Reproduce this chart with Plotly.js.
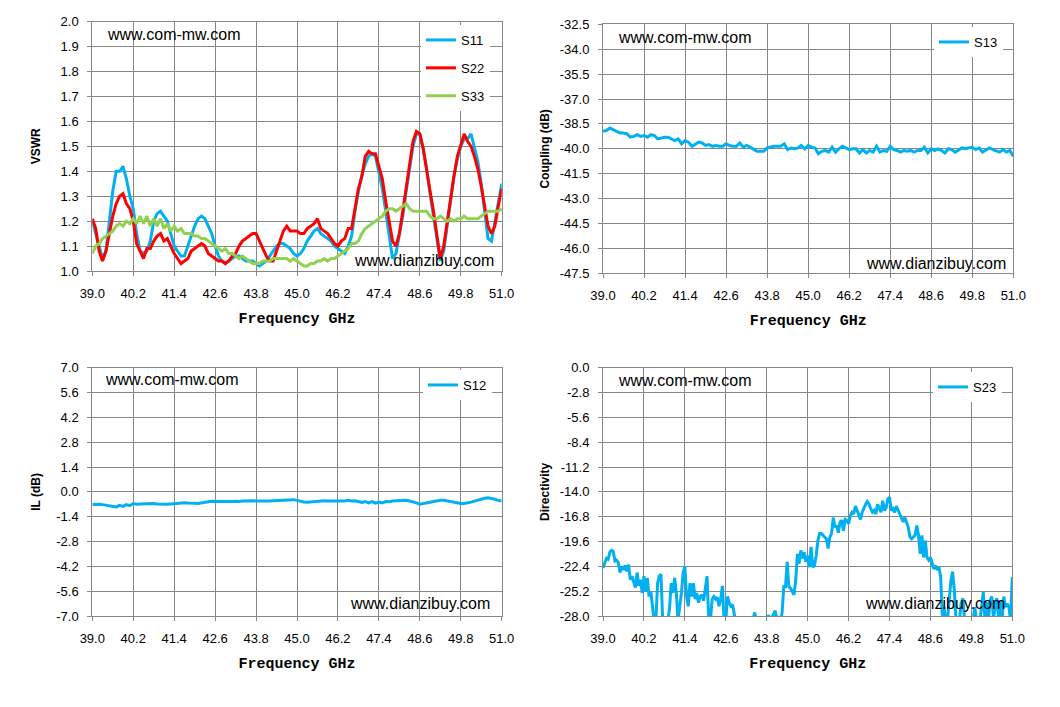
<!DOCTYPE html>
<html>
<head>
<meta charset="utf-8">
<script src="https://cdn.plot.ly/plotly-3.0.1.min.js"></script>
<style>
  html, body { margin: 0; padding: 0; background: #fff; }
  #chart { width: 1060px; height: 707px; }
</style>
</head>
<body>
<div id="chart"></div>
<script>
// frequency grid, GHz (0.1 GHz step)
var freq = [
  39.0, 39.1, 39.2, 39.3, 39.4, 39.5, 39.6, 39.7, 39.8, 39.9,
  40.0, 40.1, 40.2, 40.3, 40.4, 40.5, 40.6, 40.7, 40.8, 40.9,
  41.0, 41.1, 41.2, 41.3, 41.4, 41.5, 41.6, 41.7, 41.8, 41.9,
  42.0, 42.1, 42.2, 42.3, 42.4, 42.5, 42.6, 42.7, 42.8, 42.9,
  43.0, 43.1, 43.2, 43.3, 43.4, 43.5, 43.6, 43.7, 43.8, 43.9,
  44.0, 44.1, 44.2, 44.3, 44.4, 44.5, 44.6, 44.7, 44.8, 44.9,
  45.0, 45.1, 45.2, 45.3, 45.4, 45.5, 45.6, 45.7, 45.8, 45.9,
  46.0, 46.1, 46.2, 46.3, 46.4, 46.5, 46.6, 46.7, 46.8, 46.9,
  47.0, 47.1, 47.2, 47.3, 47.4, 47.5, 47.6, 47.7, 47.8, 47.9,
  48.0, 48.1, 48.2, 48.3, 48.4, 48.5, 48.6, 48.7, 48.8, 48.9,
  49.0, 49.1, 49.2, 49.3, 49.4, 49.5, 49.6, 49.7, 49.8, 49.9,
  50.0, 50.1, 50.2, 50.3, 50.4, 50.5, 50.6, 50.7, 50.8, 50.9,
  51.0
];

// finer grid for the noisy directivity trace (0.05 GHz step)
var freqFine = [
  39.00, 39.05, 39.10, 39.15, 39.20, 39.25, 39.30, 39.35, 39.40, 39.45, 39.50, 39.55, 39.60, 39.65, 39.70, 39.75, 39.80, 39.85, 39.90, 39.95,
  40.00, 40.05, 40.10, 40.15, 40.20, 40.25, 40.30, 40.35, 40.40, 40.45, 40.50, 40.55, 40.60, 40.65, 40.70, 40.75, 40.80, 40.85, 40.90, 40.95,
  41.00, 41.05, 41.10, 41.15, 41.20, 41.25, 41.30, 41.35, 41.40, 41.45, 41.50, 41.55, 41.60, 41.65, 41.70, 41.75, 41.80, 41.85, 41.90, 41.95,
  42.00, 42.05, 42.10, 42.15, 42.20, 42.25, 42.30, 42.35, 42.40, 42.45, 42.50, 42.55, 42.60, 42.65, 42.70, 42.75, 42.80, 42.85, 42.90, 42.95,
  43.00, 43.05, 43.10, 43.15, 43.20, 43.25, 43.30, 43.35, 43.40, 43.45, 43.50, 43.55, 43.60, 43.65, 43.70, 43.75, 43.80, 43.85, 43.90, 43.95,
  44.00, 44.05, 44.10, 44.15, 44.20, 44.25, 44.30, 44.35, 44.40, 44.45, 44.50, 44.55, 44.60, 44.65, 44.70, 44.75, 44.80, 44.85, 44.90, 44.95,
  45.00, 45.05, 45.10, 45.15, 45.20, 45.25, 45.30, 45.35, 45.40, 45.45, 45.50, 45.55, 45.60, 45.65, 45.70, 45.75, 45.80, 45.85, 45.90, 45.95,
  46.00, 46.05, 46.10, 46.15, 46.20, 46.25, 46.30, 46.35, 46.40, 46.45, 46.50, 46.55, 46.60, 46.65, 46.70, 46.75, 46.80, 46.85, 46.90, 46.95,
  47.00, 47.05, 47.10, 47.15, 47.20, 47.25, 47.30, 47.35, 47.40, 47.45, 47.50, 47.55, 47.60, 47.65, 47.70, 47.75, 47.80, 47.85, 47.90, 47.95,
  48.00, 48.05, 48.10, 48.15, 48.20, 48.25, 48.30, 48.35, 48.40, 48.45, 48.50, 48.55, 48.60, 48.65, 48.70, 48.75, 48.80, 48.85, 48.90, 48.95,
  49.00, 49.05, 49.10, 49.15, 49.20, 49.25, 49.30, 49.35, 49.40, 49.45, 49.50, 49.55, 49.60, 49.65, 49.70, 49.75, 49.80, 49.85, 49.90, 49.95,
  50.00, 50.05, 50.10, 50.15, 50.20, 50.25, 50.30, 50.35, 50.40, 50.45, 50.50, 50.55, 50.60, 50.65, 50.70, 50.75, 50.80, 50.85, 50.90, 50.95,
  51.00
];

// VSWR
var s11 = [
  1.20, 1.15, 1.10, 1.05, 1.08, 1.20, 1.32, 1.40, 1.40, 1.42,
  1.37, 1.30, 1.25, 1.15, 1.08, 1.07, 1.08, 1.12, 1.20, 1.23,
  1.24, 1.22, 1.20, 1.15, 1.10, 1.08, 1.06, 1.06, 1.10, 1.14,
  1.18, 1.21, 1.22, 1.21, 1.18, 1.15, 1.10, 1.06, 1.04, 1.03,
  1.04, 1.05, 1.06, 1.06, 1.05, 1.04, 1.04, 1.04, 1.03, 1.02,
  1.03, 1.04, 1.06, 1.08, 1.10, 1.11, 1.11, 1.10, 1.09, 1.07,
  1.06, 1.07, 1.09, 1.12, 1.14, 1.16, 1.17, 1.15, 1.14, 1.13,
  1.12, 1.10, 1.09, 1.08, 1.07, 1.10, 1.14, 1.24, 1.32, 1.38,
  1.43, 1.46, 1.47, 1.46, 1.40, 1.33, 1.24, 1.15, 1.05, 1.07,
  1.14, 1.22, 1.32, 1.42, 1.50, 1.55, 1.55, 1.49, 1.41, 1.31,
  1.22, 1.12, 1.04, 1.08, 1.18, 1.28, 1.38, 1.45, 1.50, 1.53,
  1.53, 1.55, 1.50, 1.44, 1.35, 1.24, 1.13, 1.12, 1.20, 1.28,
  1.35
];
var s22 = [
  1.21, 1.17, 1.08, 1.04, 1.08, 1.15, 1.22, 1.27, 1.30, 1.31,
  1.27, 1.25, 1.20, 1.11, 1.08, 1.05, 1.09, 1.09, 1.12, 1.14,
  1.15, 1.12, 1.13, 1.10, 1.07, 1.05, 1.03, 1.04, 1.05, 1.08,
  1.09, 1.10, 1.11, 1.10, 1.07, 1.06, 1.05, 1.04, 1.04, 1.03,
  1.04, 1.06, 1.07, 1.10, 1.12, 1.13, 1.14, 1.15, 1.15, 1.12,
  1.09, 1.06, 1.04, 1.04, 1.08, 1.12, 1.16, 1.18, 1.16, 1.16,
  1.16, 1.15, 1.15, 1.17, 1.18, 1.19, 1.21, 1.17, 1.16, 1.15,
  1.13, 1.11, 1.10, 1.12, 1.13, 1.17, 1.17, 1.25, 1.33, 1.38,
  1.46, 1.48, 1.47, 1.47, 1.42, 1.37, 1.28, 1.20, 1.12, 1.10,
  1.15, 1.24, 1.34, 1.44, 1.52, 1.56, 1.55, 1.49, 1.40, 1.32,
  1.24, 1.14, 1.05, 1.10, 1.20, 1.28, 1.38, 1.46, 1.51, 1.55,
  1.52, 1.50, 1.46, 1.41, 1.34, 1.25, 1.18, 1.15, 1.18, 1.26,
  1.33
];
var s33 = [
  1.07, 1.10, 1.11, 1.13, 1.14, 1.15, 1.16, 1.18, 1.19, 1.18,
  1.20, 1.19, 1.21, 1.19, 1.22, 1.19, 1.22, 1.18, 1.21, 1.18,
  1.21, 1.17, 1.19, 1.16, 1.18, 1.16, 1.17, 1.15, 1.15, 1.15,
  1.14, 1.14, 1.13, 1.13, 1.12, 1.11, 1.10, 1.09, 1.08, 1.09,
  1.07, 1.07, 1.06, 1.05, 1.06, 1.05, 1.04, 1.03, 1.03, 1.03,
  1.04, 1.04, 1.04, 1.05, 1.05, 1.05, 1.05, 1.05, 1.04, 1.05,
  1.04, 1.03, 1.02, 1.02, 1.03, 1.03, 1.04, 1.04, 1.05, 1.04,
  1.05, 1.05, 1.06, 1.07, 1.08, 1.09, 1.11, 1.11, 1.12, 1.15,
  1.17, 1.18, 1.19, 1.20, 1.21, 1.22, 1.24, 1.25, 1.25, 1.24,
  1.25, 1.26, 1.27, 1.25, 1.24, 1.24, 1.24, 1.24, 1.24, 1.22,
  1.21, 1.21, 1.22, 1.21, 1.20, 1.21, 1.20, 1.21, 1.21, 1.22,
  1.21, 1.21, 1.21, 1.21, 1.22, 1.23, 1.24, 1.24, 1.24, 1.24,
  1.25
];

// Coupling, dB
var s13 = [
  -38.95, -38.90, -38.75, -38.85, -39.00, -39.05, -39.05, -39.10, -39.30, -39.25,
  -39.15, -39.25, -39.20, -39.30, -39.15, -39.20, -39.40, -39.35, -39.30, -39.30,
  -39.40, -39.50, -39.40, -39.70, -39.50, -39.60, -39.85, -39.75, -39.60, -39.65,
  -39.80, -39.75, -39.85, -39.80, -39.85, -39.85, -39.70, -39.80, -39.85, -39.85,
  -39.65, -39.90, -39.80, -39.90, -40.05, -40.15, -40.15, -40.15, -39.95, -39.90,
  -39.85, -39.85, -39.85, -39.70, -40.05, -39.95, -40.00, -39.95, -39.80, -40.00,
  -39.80, -39.90, -39.95, -40.30, -40.15, -40.10, -40.20, -39.90, -40.20, -40.00,
  -39.85, -39.95, -40.05, -40.00, -40.00, -40.25, -40.05, -40.25, -40.10, -40.20,
  -39.85, -40.20, -40.10, -40.15, -39.85, -40.05, -40.10, -40.20, -40.10, -40.15,
  -40.10, -40.20, -40.10, -40.10, -39.90, -40.25, -40.00, -40.10, -40.00, -40.10,
  -40.25, -40.00, -40.05, -40.20, -40.10, -39.95, -40.00, -39.95, -39.90, -40.05,
  -39.95, -40.20, -40.05, -39.95, -40.05, -40.15, -40.20, -40.05, -40.20, -40.10,
  -40.45
];

// Insertion loss, dB
var s12 = [
  -0.72, -0.70, -0.70, -0.72, -0.75, -0.78, -0.80, -0.85, -0.76, -0.82,
  -0.72, -0.78, -0.66, -0.70, -0.68, -0.67, -0.66, -0.67, -0.66, -0.68,
  -0.70, -0.72, -0.70, -0.68, -0.66, -0.62, -0.60, -0.62, -0.63, -0.62,
  -0.64, -0.66, -0.64, -0.60, -0.56, -0.53, -0.55, -0.55, -0.54, -0.55,
  -0.56, -0.55, -0.53, -0.55, -0.52, -0.50, -0.52, -0.50, -0.51, -0.52,
  -0.50, -0.51, -0.52, -0.50, -0.49, -0.48, -0.45, -0.43, -0.42, -0.44,
  -0.48, -0.53, -0.57, -0.58, -0.56, -0.52, -0.50, -0.49, -0.50, -0.52,
  -0.52, -0.51, -0.53, -0.50, -0.52, -0.48, -0.52, -0.50, -0.55, -0.60,
  -0.55, -0.62, -0.55, -0.64, -0.58, -0.62, -0.55, -0.56, -0.52, -0.50,
  -0.48, -0.46, -0.48, -0.52, -0.56, -0.62, -0.70, -0.66, -0.62, -0.56,
  -0.52, -0.48, -0.47, -0.48, -0.52, -0.56, -0.60, -0.64, -0.66, -0.66,
  -0.64, -0.58, -0.52, -0.46, -0.40, -0.36, -0.34, -0.36, -0.42, -0.48,
  -0.52
];

// Directivity, dB (values under -28 run off the bottom of the plot)
var s23 = [
  -22.6, -22.0, -21.5, -21.6, -20.8, -20.6, -20.7, -21.8, -21.7, -22.0, -23.1, -22.4, -22.8, -22.3, -22.95, -22.2, -23.9, -23.5, -24.3, -24.8,
  -23.1, -24.6, -23.9, -25.4, -23.5, -25.2, -23.7, -25.8, -25.2, -27.2, -28.5, -28.5, -24.3, -23.5, -23.3, -28.5, -28.5, -28.5, -28.5, -27.2,
  -24.3, -25.4, -23.7, -25.4, -28.5, -26.9, -25.4, -23.1, -22.4, -25.8, -26.9, -24.3, -25.8, -24.3, -26.1, -25.4, -26.5, -25.8, -25.6, -26.3,
  -24.8, -23.5, -28.5, -28.5, -26.1, -25.8, -26.1, -25.9, -26.9, -26.1, -24.6, -28.5, -28.5, -25.8, -26.5, -26.9, -26.7, -28.0, -29.0, -29.0,
  -29.0, -29.0, -29.0, -29.0, -29.0, -29.0, -29.0, -29.0, -28.3, -27.6, -29.0, -29.0, -29.0, -29.0, -29.0, -28.3, -28.6, -27.9, -28.3, -28.2,
  -27.7, -27.4, -28.4, -28.2, -28.4, -27.7, -24.7, -24.7, -21.9, -24.7, -24.9, -25.3, -25.6, -24.0, -21.0, -22.1, -20.6, -21.5, -20.8, -21.9,
  -21.2, -22.5, -20.2, -22.5, -22.3, -21.2, -19.5, -18.7, -18.7, -18.9, -19.1, -19.3, -20.4, -19.1, -18.7, -16.9, -18.0, -17.8, -18.6, -17.4,
  -17.2, -18.4, -17.1, -17.2, -17.6, -16.7, -16.3, -16.5, -15.6, -16.1, -16.5, -17.1, -16.3, -15.8, -15.4, -15.1, -15.4, -15.9, -16.3, -16.1,
  -16.5, -15.4, -15.9, -16.3, -15.0, -16.1, -15.8, -14.8, -14.6, -16.1, -15.9, -16.3, -15.6, -16.1, -16.5, -17.1, -17.4, -16.9, -17.6, -18.0,
  -19.1, -19.3, -19.1, -18.9, -17.8, -18.9, -21.0, -18.9, -21.4, -19.5, -21.4, -21.7, -21.4, -22.1, -22.7, -22.3, -22.8, -22.5, -23.6, -28.1,
  -27.0, -28.5, -28.5, -26.2, -24.0, -23.0, -25.1, -28.5, -28.5, -28.5, -26.6, -26.0, -28.5, -28.5, -28.5, -28.5, -28.5, -28.5, -27.0, -28.5,
  -28.5, -28.5, -27.0, -25.3, -28.5, -26.4, -28.5, -26.2, -25.8, -28.5, -26.6, -26.0, -28.5, -26.2, -28.5, -25.8, -27.0, -26.6, -27.0, -28.5,
  -23.6
];

// axis ticks
var freqTicks = [39.0, 40.2, 41.4, 42.6, 43.8, 45.0, 46.2, 47.4, 48.6, 49.8, 51.0];
var vswrTicks = [1.0, 1.1, 1.2, 1.3, 1.4, 1.5, 1.6, 1.7, 1.8, 1.9, 2.0];
var couplingTicks = [-47.5, -46.0, -44.5, -43.0, -41.5, -40.0, -38.5, -37.0, -35.5, -34.0, -32.5];
var ilTicks = [-7.0, -5.6, -4.2, -2.8, -1.4, 0.0, 1.4, 2.8, 4.2, 5.6, 7.0];
var dirTicks = [-28.0, -25.2, -22.4, -19.6, -16.8, -14.0, -11.2, -8.4, -5.6, -2.8, 0.0];

var W = 1060, H = 707;
var FONT = 'Liberation Sans, Arial, sans-serif';
var GRID = '#878787';
var BLUE = '#00B0F0', RED = '#FF0000', GREEN = '#92D050';

function fx(p) { return p / W; }
function fy(p) { return 1 - p / H; }
function labels(arr) { return arr.map(function(v) { return v.toFixed(1); }); }

function xAxis(l, r, anchor) {
  return {
    domain: [fx(l), fx(r)], anchor: anchor, range: [39, 51],
    tickmode: 'array', tickvals: freqTicks, ticktext: labels(freqTicks),
    showgrid: true, gridcolor: GRID, gridwidth: 1,
    showline: true, linecolor: GRID, linewidth: 1, mirror: true,
    ticks: 'outside', ticklen: 4, tickcolor: GRID, zeroline: false,
    ticklabelstandoff: 6,
    tickfont: {family: FONT, size: 13, color: '#000'},
    title: {text: '<b>Frequency GHz</b>', standoff: 12,
            font: {family: 'Liberation Mono, monospace', size: 15, color: '#000'}},
    fixedrange: true
  };
}
function yAxis(top, bottom, anchor, range, ticks, title, standoff) {
  return {
    domain: [fy(bottom), fy(top)], anchor: anchor, range: range,
    tickmode: 'array', tickvals: ticks, ticktext: labels(ticks),
    showgrid: true, gridcolor: GRID, gridwidth: 1,
    showline: true, linecolor: GRID, linewidth: 1, mirror: true,
    ticks: 'outside', ticklen: 4, tickcolor: GRID, zeroline: false,
    ticklabelstandoff: 6,
    tickfont: {family: FONT, size: 13, color: '#000'},
    title: {text: '<b>' + title + '</b>', standoff: standoff,
            font: {family: FONT, size: 12, color: '#000'}},
    fixedrange: true
  };
}
function legendAt(left, top) {
  return {
    x: fx(left), y: fy(top), xanchor: 'left', yanchor: 'top',
    bgcolor: '#ffffff', borderwidth: 0, traceorder: 'grouped', tracegroupgap: 8,
    font: {family: FONT, size: 13, color: '#000'}
  };
}
function mark(text, left, cy) {
  return {
    xref: 'paper', yref: 'paper', x: fx(left), y: fy(cy),
    xanchor: 'left', yanchor: 'middle', showarrow: false, text: text,
    font: {family: FONT, size: 16, color: '#000'}
  };
}

var line = function(c) { return {color: c, width: 3}; };
var data = [
  {x: freq, y: s11, name: 'S11', mode: 'lines', line: line(BLUE), xaxis: 'x', yaxis: 'y', legend: 'legend', legendgroup: 'a'},
  {x: freq, y: s22, name: 'S22', mode: 'lines', line: line(RED), xaxis: 'x', yaxis: 'y', legend: 'legend', legendgroup: 'b'},
  {x: freq, y: s33, name: 'S33', mode: 'lines', line: line(GREEN), xaxis: 'x', yaxis: 'y', legend: 'legend', legendgroup: 'c'},
  {x: freq, y: s13, name: 'S13', mode: 'lines', line: line(BLUE), xaxis: 'x2', yaxis: 'y2', legend: 'legend2'},
  {x: freq, y: s12, name: 'S12', mode: 'lines', line: line(BLUE), xaxis: 'x3', yaxis: 'y3', legend: 'legend3'},
  {x: freqFine, y: s23, name: 'S23', mode: 'lines', line: line(BLUE), xaxis: 'x4', yaxis: 'y4', legend: 'legend4'}
];

var layout = {
  width: W, height: H,
  margin: {l: 0, r: 0, t: 0, b: 0},
  paper_bgcolor: '#fff', plot_bgcolor: '#fff',
  showlegend: true,
  xaxis:  xAxis(92.3, 501.7, 'y'),
  yaxis:  yAxis(21.7, 271, 'x', [1, 2], vswrTicks, 'VSWR', 17),
  xaxis2: xAxis(603, 1013.3, 'y2'),
  yaxis2: yAxis(24.3, 273.3, 'x2', [-47.5, -32.5], couplingTicks, 'Coupling (dB)', 7),
  xaxis3: xAxis(92.3, 501.7, 'y3'),
  yaxis3: yAxis(367.7, 616, 'x3', [-7, 7], ilTicks, 'IL (dB)', 13),
  xaxis4: xAxis(603, 1012.3, 'y4'),
  yaxis4: yAxis(367.7, 616, 'x4', [-28, 0], dirTicks, 'Directivity', 7),
  legend:  legendAt(421, 25),
  legend2: legendAt(934, 27),
  legend3: legendAt(423, 370),
  legend4: legendAt(933, 372),
  annotations: [
    mark('www.com-mw.com', 105, 34),
    mark('www.dianzibuy.com', 352, 260),
    mark('www.com-mw.com', 616, 37),
    mark('www.dianzibuy.com', 864, 263),
    mark('www.com-mw.com', 103, 379),
    mark('www.dianzibuy.com', 348, 603),
    mark('www.com-mw.com', 616, 381),
    mark('www.dianzibuy.com', 863, 603)
  ]
};

Plotly.newPlot('chart', data, layout, {staticPlot: true, displayModeBar: false});
</script>
</body>
</html>
